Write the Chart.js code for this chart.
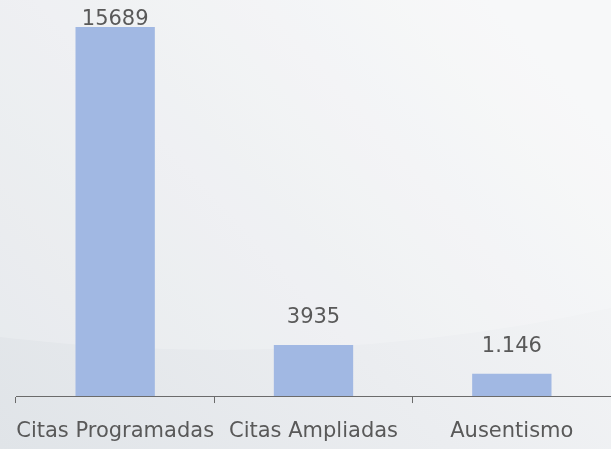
<!DOCTYPE html>
<html>
<head>
<meta charset="utf-8">
<script src="https://cdn.jsdelivr.net/npm/chart.js@4"></script>
<style>
  html, body { margin: 0; padding: 0; background: #eef0f2; }
  #wrap { width: 611px; height: 449px; position: relative; }
</style>
</head>
<body>
<div id="wrap"><canvas id="chart" width="611" height="449"></canvas></div>
<script>
const categories = ["Citas Programadas", "Citas Ampliadas", "Ausentismo"];
// bar heights (value labels below are the printed text)
const barValues = [15689, 2170, 950];
const valueLabels = ["15689", "3935", "1.146"];

const textColor = "#595959";
const fontFamily = "'DejaVu Sans', sans-serif";

// soft grey slide-style background with a faint curved band
const backgroundPlugin = {
    id: "slideBackground",
    beforeDraw(chart) {
        const ctx = chart.ctx;
        const w = chart.width, h = chart.height;
        ctx.save();
        const g = ctx.createLinearGradient(0, h, w * 0.8, 0);
        g.addColorStop(0, "#e0e4e8");
        g.addColorStop(0.5, "#ebedf0");
        g.addColorStop(1, "#f6f7f8");
        ctx.fillStyle = g;
        ctx.fillRect(0, 0, w, h);
        // big lighter ellipse whose lower edge gives the curve
        ctx.beginPath();
        ctx.ellipse(220, -250, 1064, 600, 0, 0, Math.PI * 2);
        ctx.fillStyle = "rgba(255, 255, 255, 0.2)";
        ctx.fill();
        ctx.restore();
    },
};

// value labels above the bars, kept inside the canvas
const valueLabelPlugin = {
    id: "valueLabels",
    afterDatasetsDraw(chart) {
        const ctx = chart.ctx;
        const meta = chart.getDatasetMeta(0);
        ctx.save();
        ctx.font = "21px " + fontFamily;
        ctx.fillStyle = textColor;
        ctx.textAlign = "center";
        ctx.textBaseline = "middle";
        meta.data.forEach((bar, i) => {
            const y = Math.max(bar.y - 27, 20);
            ctx.fillText(valueLabels[i], bar.x, y);
        });
        ctx.restore();
    },
};

new Chart(document.getElementById("chart").getContext("2d"), {
    type: "bar",
    data: {
        labels: categories,
        datasets: [
            {
                data: barValues,
                backgroundColor: "#a1b8e3",
                borderWidth: 0,
                barPercentage: 0.4,
                categoryPercentage: 1.0,
            },
        ],
    },
    options: {
        responsive: false,
        maintainAspectRatio: false,
        animation: false,
        layout: {
            padding: { top: 27, left: 16, right: -3, bottom: -12 },
        },
        plugins: {
            legend: { display: false },
            tooltip: { enabled: false },
        },
        scales: {
            x: {
                grid: {
                    display: true,
                    offset: true,
                    drawOnChartArea: false,
                    drawTicks: true,
                    tickLength: 7,
                    color: "#6b6b6b",
                },
                border: { display: true, color: "#6b6b6b", width: 1 },
                ticks: {
                    color: textColor,
                    font: { family: fontFamily, size: 21, lineHeight: 2.76 },
                    padding: 0,
                    maxRotation: 0,
                    autoSkip: false,
                },
            },
            y: {
                display: false,
                min: 0,
                max: 15689,
            },
        },
    },
    plugins: [backgroundPlugin, valueLabelPlugin],
});
</script>
</body>
</html>
